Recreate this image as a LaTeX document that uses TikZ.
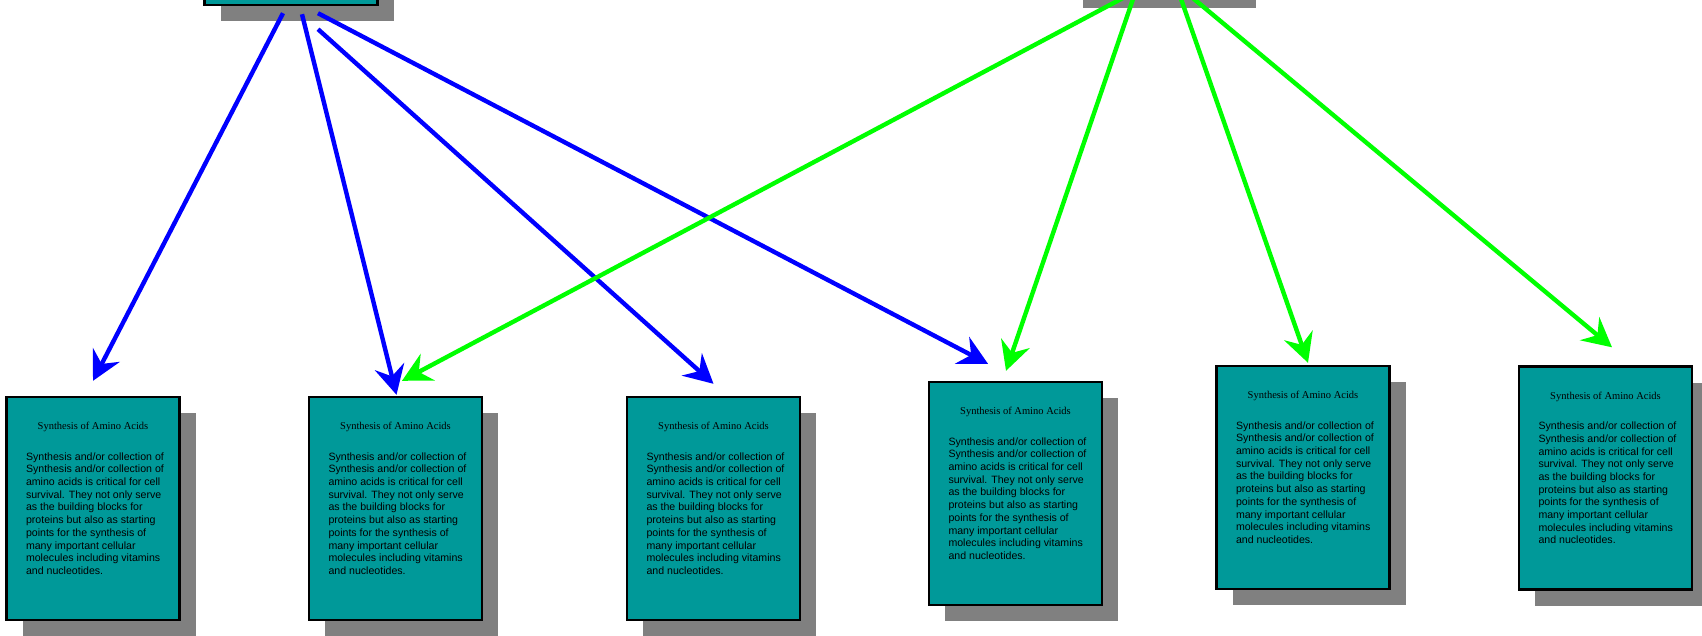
\documentclass[tikz,border=0pt]{standalone}
\usepackage{fontspec}
\setmainfont{Liberation Serif}
\newfontfamily\cardsans{Liberation Sans}
\usetikzlibrary{
        arrows.meta,
        calc,
        positioning,
        shadows
    }
\definecolor{cardteal}{RGB}{0,153,153}
\definecolor{shadowgray}{RGB}{128,128,128}
\tikzset{>={Stealth[length=29pt,width=30pt,inset=10pt]},x=1pt,y=-1pt}
\tikzset{card/.style={draw,line width=2.4pt,fill=cardteal,minimum width=173pt,minimum height=223pt,inner sep=0pt,
        drop shadow={shadow xshift=16pt,shadow yshift=-16pt,fill=shadowgray,opacity=1}}}
\tikzset{card title/.style={anchor=base,inner sep=0pt,font=\fontsize{10.5}{12}\selectfont}}
\tikzset{card text/.style={anchor=north west,inner sep=0pt,align=left,font=\cardsans\fontsize{10.6}{12.7}\selectfont}}
\tikzset{blue link/.style={->,draw=blue,line width=4.4pt}}
\tikzset{green link/.style={->,draw=green,line width=4.4pt}}
\newcommand{\aminotitle}{Synthesis of Amino Acids}
\newcommand{\aminotext}{Synthesis and/or collection of\\Synthesis and/or collection of\\amino acids is critical for cell\\survival. They not only serve\\as the building blocks for\\proteins but also as starting\\points for the synthesis of\\many important cellular\\molecules including vitamins\\and nucleotides.}

\begin{document}
\begin{tikzpicture}
            \useasboundingbox (0,0) rectangle (1702,635);
            % parents, cut by the top edge
            \node[card] (ta) at (291,-106.5) {};
            \node[card] (tb) at (1153,-119.5) {};
            % children
            \node[card] (b1) at (93,508.5) {};
            \node[card] (b2) at (395.5,508.5) {};
            \node[card] (b3) at (713.5,508.5) {};
            \node[card] (b4) at (1015.5,493.5) {};
            \node[card] (b5) at (1303,477.5) {};
            \node[card] (b6) at (1605.5,478) {};
            \node[card title] (h1) at ($(b1.north)+(0,34)$) {\aminotitle};
            \node[card text] (d1) at ($(b1.north west)+(20.5,56.5)$) {\aminotext};
            \node[card title] (h2) at ($(b2.north)+(0,34)$) {\aminotitle};
            \node[card text] (d2) at ($(b2.north west)+(20.5,56.5)$) {\aminotext};
            \node[card title] (h3) at ($(b3.north)+(0,34)$) {\aminotitle};
            \node[card text] (d3) at ($(b3.north west)+(20.5,56.5)$) {\aminotext};
            \node[card title] (h4) at ($(b4.north)+(0,34)$) {\aminotitle};
            \node[card text] (d4) at ($(b4.north west)+(20.5,56.5)$) {\aminotext};
            \node[card title] (h5) at ($(b5.north)+(0,34)$) {\aminotitle};
            \node[card text] (d5) at ($(b5.north west)+(20.5,56.5)$) {\aminotext};
            \node[card title] (h6) at ($(b6.north)+(0,34)$) {\aminotitle};
            \node[card text] (d6) at ($(b6.north west)+(20.5,56.5)$) {\aminotext};
            \draw[blue link] ($(ta.south)+(-8,7)$) -- ($(b1.north)+(0,-15)$);
            \draw[blue link] ($(ta.south)+(11,8)$) -- ($(b2.north)+(1,-1)$);
            \draw[blue link] ($(ta.south)+(27,23)$) -- ($(b3.north)+(0,-12)$);
            \draw[blue link] ($(ta.south)+(27,7)$) -- ($(b4.north)+(-27.5,-17)$);
            \draw[green link] ($(tb.south)+(-21,0)$) -- ($(b2.north)+(6.5,-15)$);
            \draw[green link] ($(tb.south)+(-18,0)$) -- ($(b4.north)+(-9.5,-10)$);
            \draw[green link] ($(tb.south)+(26,0)$) -- ($(b5.north)+(5,-2)$);
            \draw[green link] ($(tb.south)+(34,0)$) -- ($(b6.north)+(6.5,-18)$);
        \end{tikzpicture}
\end{document}
